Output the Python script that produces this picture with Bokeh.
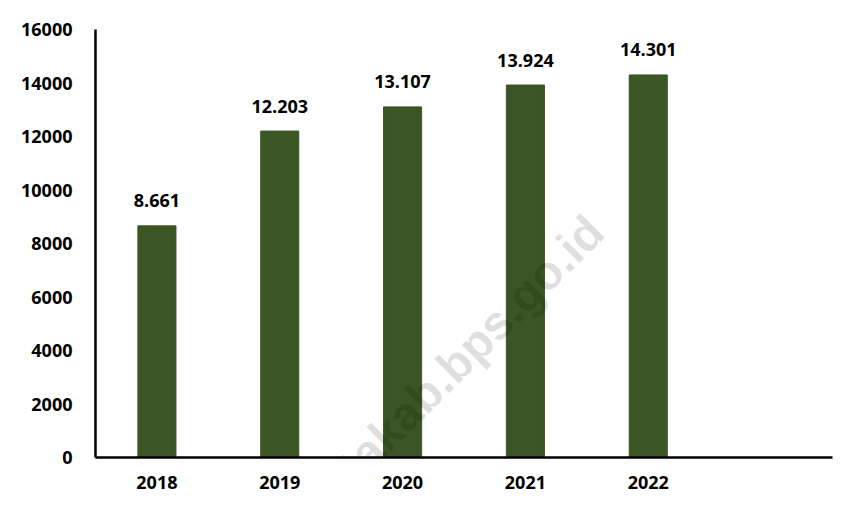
from bokeh.plotting import figure
from bokeh.models import ColumnDataSource, FactorRange, Range1d, FixedTicker, NumeralTickFormatter, Label
from bokeh.core.properties import value
from bokeh.embed import file_html
from bokeh.resources import INLINE

years = ["2018", "2019", "2020", "2021", "2022"]
values = [8661, 12203, 13107, 13924, 14301]
labels = ["8.661", "12.203", "13.107", "13.924", "14.301"]
extra_slot = [" "]
y_ticks = [0, 2000, 4000, 6000, 8000, 10000, 12000, 14000, 16000]

FONT = "Open Sans"
BAR = "#3b5524"

src = ColumnDataSource(dict(year=years, val=values, lab=labels))

p = figure(
    x_range=FactorRange(factors=years + extra_slot, range_padding=0),
    y_range=Range1d(0, 16000),
    frame_width=737, frame_height=428,
    output_backend="svg", toolbar_location=None,
    min_border_left=95, min_border_right=10, min_border_top=29, min_border_bottom=30,
)
p.outline_line_color = None
p.xgrid.visible = False
p.ygrid.visible = False
p.background_fill_color = "white"
p.border_fill_color = "white"

p.vbar(x="year", top="val", width=0.31, source=src, fill_color=BAR, line_color=BAR)

p.text(x="year", y="val", text="lab", source=src, y_offset=-25,
       text_align="center", text_baseline="alphabetic",
       text_font=value(FONT), text_font_style="bold", text_font_size="18px",
       text_color="black")

for ax in (p.xaxis[0], p.yaxis[0]):
    ax.axis_line_color = "black"
    ax.axis_line_width = 2.5
    ax.major_tick_line_color = None
    ax.minor_tick_line_color = None
    ax.major_label_text_font = FONT
    ax.major_label_text_font_style = "bold"
    ax.major_label_text_font_size = "18px"
    ax.major_label_text_color = "black"

p.yaxis.ticker = FixedTicker(ticks=y_ticks)
p.yaxis.formatter = NumeralTickFormatter(format="0")
p.yaxis.major_label_standoff = 17
p.xaxis.major_label_standoff = 6

wm = Label(x=4.071, y=8748, text="hkotakab.bps.go.id", angle=45, angle_units="deg",
           text_align="right", text_baseline="alphabetic",
           text_font="Liberation Sans", text_font_style="bold", text_font_size="48px",
           text_color="black", text_alpha=0.12, level="overlay")
p.add_layout(wm)

open("out.html", "w").write(file_html(p, INLINE))
